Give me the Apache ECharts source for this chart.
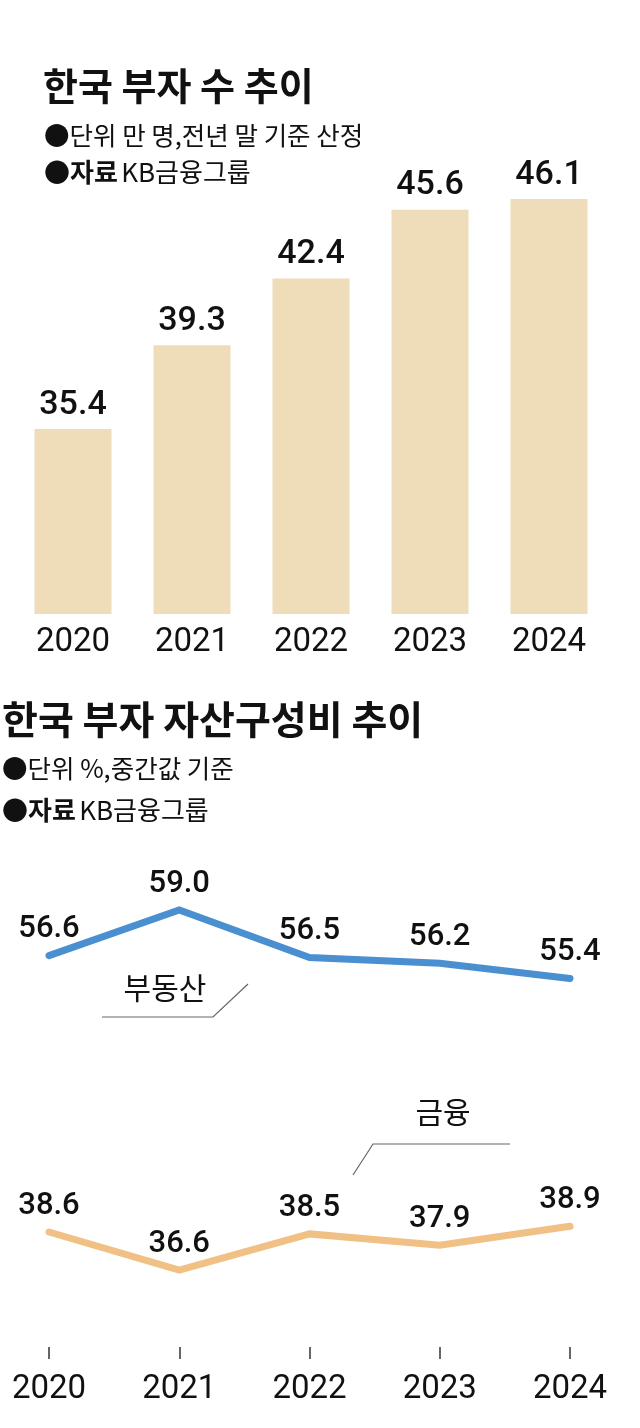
<!DOCTYPE html>
<html><head><meta charset="utf-8">
<script src="https://cdn.jsdelivr.net/npm/echarts@6/dist/echarts.min.js"></script>
<style>html,body{margin:0;padding:0;background:#fff}#c{width:640px;height:1428px}</style>
</head><body><div id="c"></div>
<script>
const years = ['2020','2021','2022','2023','2024'];
const richCount = [35.4, 39.3, 42.4, 45.6, 46.1];
const realEstate = [56.6, 59.0, 56.5, 56.2, 55.4];
const financial = [38.6, 36.6, 38.5, 37.9, 38.9];

const KR = '"Noto Sans CJK KR", "Noto Sans", sans-serif';
const NUM = 'Roboto, "Noto Sans", sans-serif';

const chart = echarts.init(document.getElementById('c'), null, {renderer:'canvas'});
const numLabel = (size, dist) => ({show:true, position:'top', distance:dist, color:'#111', fontFamily:NUM, fontWeight:500, fontSize:size, formatter: p => p.value.toFixed(1)});

chart.setOption({
  backgroundColor:'#fff',
  animation:false,
  grid:[
    {left:13.5, width:595, top:184, height:430},
    {left:49, width:521, top:891, height:114},
    {left:49, width:521, top:1205.4, height:76}
  ],
  xAxis:[
    {type:'category', gridIndex:0, data:years, boundaryGap:true,
     axisLine:{show:false}, axisTick:{show:false},
     axisLabel:{color:'#111', fontFamily:NUM, fontSize:33, margin:12}},
    {type:'category', gridIndex:1, data:years, boundaryGap:false, show:false},
    {type:'category', gridIndex:2, data:years, boundaryGap:false, offset:65.6,
     axisLine:{show:false},
     axisTick:{show:true, alignWithLabel:true, length:12, lineStyle:{color:'#333', width:1.5}},
     axisLabel:{color:'#111', fontFamily:NUM, fontSize:33, margin:26}}
  ],
  yAxis:[
    {type:'value', gridIndex:0, min:26.8, max:46.8, show:false, splitLine:{show:false}},
    {type:'value', gridIndex:1, min:54, max:60, show:false, splitLine:{show:false}},
    {type:'value', gridIndex:2, min:36, max:40, show:false, splitLine:{show:false}}
  ],
  series:[
    {type:'bar', xAxisIndex:0, yAxisIndex:0, data:richCount, barWidth:77,
     itemStyle:{color:'#efdcb8'}, label:numLabel(34, 7)},
    {type:'line', name:'부동산', xAxisIndex:1, yAxisIndex:1, data:realEstate,
     symbol:'circle', symbolSize:1, showSymbol:true, itemStyle:{color:'#4a8fd0'},
     lineStyle:{color:'#4a8fd0', width:7, cap:'round', join:'miter'},
     label:numLabel(31, 10)},
    {type:'line', name:'금융', xAxisIndex:2, yAxisIndex:2, data:financial,
     symbol:'circle', symbolSize:1, showSymbol:true, itemStyle:{color:'#f0c085'},
     lineStyle:{color:'#f0c085', width:7, cap:'round', join:'miter'},
     label:numLabel(31, 10)}
  ],
  graphic:[
    {type:'text', left:43, top:67, style:{text:'한국 부자 수 추이', font:'bold 38px '+KR, fill:'#111'}},
    {type:'text', left:44, top:123, style:{text:'●단위 만 명,전년 말 기준 산정', font:'25.5px '+KR, fill:'#111'}},
    {type:'text', left:44, top:159, style:{
      rich:{b:{font:'bold 26px '+KR, fill:'#111'}, n:{font:'26px '+KR, fill:'#111'}},
      text:'{b|●자료} {n|KB금융그룹}'}},
    {type:'text', left:2, top:700, style:{text:'한국 부자 자산구성비 추이', font:'bold 39px '+KR, fill:'#111'}},
    {type:'text', left:2, top:756, style:{text:'●단위 %,중간값 기준', font:'25.5px '+KR, fill:'#111'}},
    {type:'text', left:2, top:797, style:{
      rich:{b:{font:'bold 26px '+KR, fill:'#111'}, n:{font:'26px '+KR, fill:'#111'}},
      text:'{b|●자료} {n|KB금융그룹}'}},
    {type:'text', x:165, y:988, style:{text:'부동산', font:'30px '+KR, fill:'#111', align:'center', verticalAlign:'middle'}},
    {type:'polyline', shape:{points:[[102,1017],[213,1017],[248,984]]}, style:{stroke:'#666', lineWidth:1.2, fill:null}},
    {type:'text', x:443, y:1112, style:{text:'금융', font:'30px '+KR, fill:'#111', align:'center', verticalAlign:'middle'}},
    {type:'polyline', shape:{points:[[510,1144],[373,1144],[353,1175]]}, style:{stroke:'#666', lineWidth:1.2, fill:null}}
  ]
});
</script></body></html>
